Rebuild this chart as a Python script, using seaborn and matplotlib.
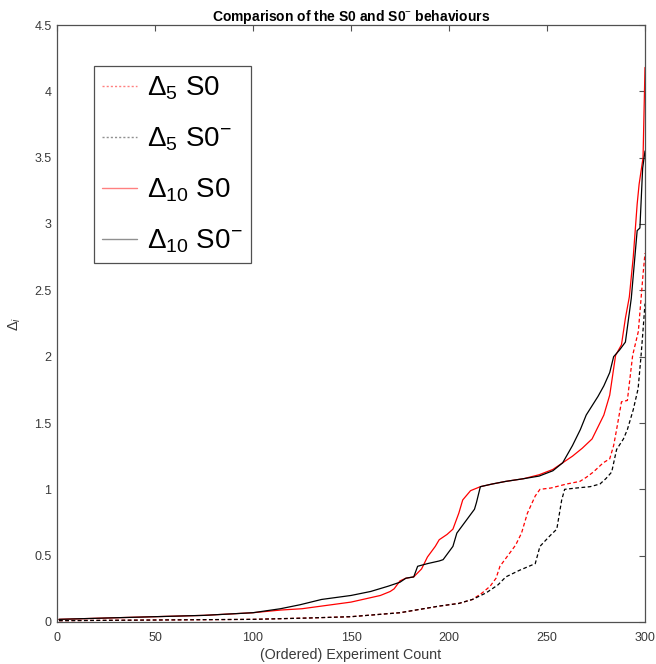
import numpy as np
import pandas as pd
import seaborn as sns
import matplotlib.pyplot as plt
from matplotlib.lines import Line2D
from matplotlib.ticker import FuncFormatter

x_d10_s0 = [1, 25, 50, 75, 100, 114, 125, 150, 165, 170, 172, 175, 178, 182, 186, 189, 193, 195,
            199, 202, 205, 207, 211, 216, 222, 229, 238, 246, 253, 258, 263, 268, 273, 276, 279,
            282, 285, 288, 290, 292, 294, 296, 297, 299, 300]
y_d10_s0 = [0.02, 0.03, 0.04, 0.05, 0.07, 0.09, 0.10, 0.15, 0.20, 0.23, 0.25, 0.31, 0.33, 0.34, 0.40,
            0.49, 0.57, 0.62, 0.66, 0.70, 0.82, 0.92, 0.99, 1.02, 1.04, 1.06, 1.08, 1.11, 1.15, 1.20,
            1.25, 1.31, 1.38, 1.47, 1.56, 1.71, 2.01, 2.09, 2.29, 2.45, 2.75, 3.15, 3.30, 3.50, 4.18]

x_d10_s0m = [1, 25, 50, 75, 100, 114, 124, 135, 150, 160, 169, 175, 178, 182, 184, 189, 195, 197,
             202, 204, 209, 213, 214, 216, 222, 229, 238, 246, 253, 258, 263, 267, 270, 273, 276,
             279, 282, 284, 287, 290, 293, 296, 297.4, 298.8, 300]
y_d10_s0m = [0.02, 0.03, 0.04, 0.05, 0.07, 0.10, 0.13, 0.17, 0.20, 0.23, 0.27, 0.30, 0.33, 0.34, 0.42,
             0.44, 0.46, 0.47, 0.57, 0.67, 0.77, 0.85, 0.90, 1.02, 1.04, 1.06, 1.08, 1.10, 1.14, 1.20,
             1.33, 1.45, 1.56, 1.63, 1.70, 1.78, 1.88, 2.00, 2.05, 2.11, 2.44, 2.95, 2.97, 3.42, 3.55]

x_d5_s0 = [1, 50, 100, 128, 150, 175, 195, 205, 212, 217, 221, 224, 226, 231, 234, 237, 240, 244,
           246.4, 252, 260, 266.8, 270, 273.6, 278.7, 282, 284, 285.5, 288, 291, 293.7, 296.6,
           298, 299, 300]
y_d5_s0 = [0.01, 0.015, 0.02, 0.03, 0.04, 0.07, 0.12, 0.14, 0.17, 0.22, 0.27, 0.33, 0.42, 0.52, 0.58,
           0.67, 0.82, 0.95, 1.00, 1.01, 1.04, 1.06, 1.09, 1.13, 1.20, 1.23, 1.33, 1.45, 1.66, 1.67,
           2.01, 2.19, 2.44, 2.62, 2.78]

x_d5_s0m = [1, 50, 100, 128, 150, 175, 195, 205, 212, 219, 225, 229, 236, 244, 246.4, 251.5, 255,
            257.5, 259, 265, 272, 277, 280, 283, 285.5, 289, 291, 294, 296.5, 298, 299, 300]
y_d5_s0m = [0.01, 0.015, 0.02, 0.03, 0.04, 0.07, 0.12, 0.14, 0.17, 0.22, 0.28, 0.34, 0.39, 0.44, 0.57,
            0.65, 0.70, 0.92, 1.00, 1.01, 1.02, 1.04, 1.08, 1.13, 1.30, 1.38, 1.45, 1.60, 1.76,
            2.01, 2.20, 2.40]

labels = [r"$\Delta_{5}$ S0", r"$\Delta_{5}$ S0$^{-}$", r"$\Delta_{10}$ S0", r"$\Delta_{10}$ S0$^{-}$"]

sns.set_style("white")
plt.rcParams['font.family'] = ['Liberation Sans', 'DejaVu Sans']
plt.rcParams['mathtext.fontset'] = 'custom'
plt.rcParams['mathtext.rm'] = 'Liberation Sans'
plt.rcParams['mathtext.it'] = 'Liberation Sans:italic'
plt.rcParams['mathtext.bf'] = 'Liberation Sans:bold'

fig = plt.figure(figsize=(6.56, 6.64), dpi=100)
ax = fig.add_axes([57 / 656, 42 / 664, 588 / 656, 597 / 664])

dash = (0, (3, 2))
sns.lineplot(x=x_d5_s0, y=y_d5_s0, ax=ax, color='red', linestyle=dash, linewidth=0.9,
             estimator=None, sort=False)
sns.lineplot(x=x_d5_s0m, y=y_d5_s0m, ax=ax, color='black', linestyle=dash, linewidth=0.9,
             estimator=None, sort=False)
sns.lineplot(x=x_d10_s0, y=y_d10_s0, ax=ax, color='red', linewidth=0.9,
             estimator=None, sort=False)
sns.lineplot(x=x_d10_s0m, y=y_d10_s0m, ax=ax, color='black', linewidth=0.9,
             estimator=None, sort=False)

ax.set_xlim(0, 300)
ax.set_ylim(0, 4.5)
ax.set_xticks(np.arange(0, 301, 50))
ax.set_yticks(np.arange(0, 4.51, 0.5))
ax.yaxis.set_major_formatter(FuncFormatter(lambda v, p: f"{v:g}"))
ax.tick_params(direction='in', length=4, width=0.8, colors='#505050', labelcolor='#3a3a3a',
               labelsize=9, top=True, right=True, pad=4)
ax.tick_params(axis='x', pad=7)
for s in ax.spines.values():
    s.set_color('#505050')
    s.set_linewidth(0.9)

ax.set_title("Comparison of the S0 and S0$^{-}$ behaviours", fontsize=10, fontweight='bold',
             color='black', pad=3)
ax.set_xlabel("(Ordered) Experiment Count", fontsize=10.3, color='#3a3a3a', labelpad=3)
ax.set_ylabel(r"$\Delta_{i}$", fontsize=10.5, color='#3a3a3a', labelpad=8)

handles = [Line2D([], [], color='#ff8080', linestyle=(0, (1.5, 1.5)), linewidth=1.0),
           Line2D([], [], color='#909090', linestyle=(0, (1.5, 1.5)), linewidth=1.0),
           Line2D([], [], color='#ff8080', linewidth=1.0),
           Line2D([], [], color='#909090', linewidth=1.0)]
leg = fig.legend(handles, labels, loc='upper left', bbox_to_anchor=(94 / 656, 1 - 66 / 664),
                 fontsize=20, frameon=True, fancybox=False, framealpha=1, borderaxespad=0,
                 handlelength=1.25, handletextpad=0.35, borderpad=0.3, labelspacing=0.85,
                 labelcolor='black')
leg.get_frame().set_edgecolor('#505050')
leg.get_frame().set_linewidth(0.9)

fig.savefig("out.png", dpi=100)
